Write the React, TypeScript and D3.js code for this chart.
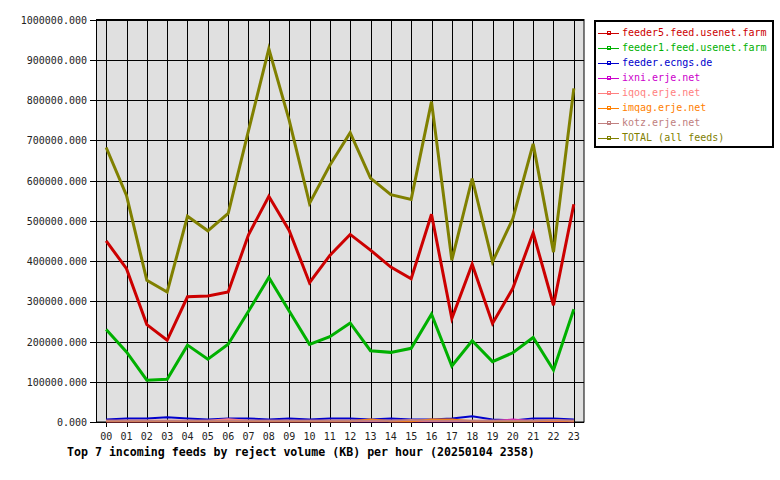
import React from "react";
import * as d3 from "d3";

const hours = ["00","01","02","03","04","05","06","07","08","09","10","11","12","13","14","15","16","17","18","19","20","21","22","23"];
const yTicks = [0,100000,200000,300000,400000,500000,600000,700000,800000,900000,1000000];

const seriesNames = ["feeder5.feed.usenet.farm","feeder1.feed.usenet.farm","feeder.ecngs.de","ixni.erje.net","iqoq.erje.net","imqag.erje.net","kotz.erje.net","TOTAL (all feeds)"];
const seriesColors = ["#cc0000","#00b000","#0000cc","#cc00cc","#ff8080","#ff8000","#c08080","#808000"];

const feeder5 = [450000,381000,242000,203000,311000,313000,323000,465000,561000,476000,346000,414000,466000,427000,385000,356000,516000,257000,392000,245000,332000,470000,290000,541000];
const feeder1 = [230000,174000,104000,106000,191000,156000,193000,275000,359000,276000,193000,212000,246000,177000,173000,183000,268000,139000,202000,150000,172000,210000,129000,280000];
const ecngs = [6000,9000,9000,12000,9000,6000,9000,9000,6000,9000,6000,9000,9000,6000,9000,6000,6000,9000,14000,6000,4000,9000,9000,6000];
const ixni = [2000,2000,2000,2000,2000,2000,2000,2000,2000,2000,2000,2000,2000,2000,2000,2000,2000,2000,2000,2000,6000,2000,2000,2000];
const iqoq = [3000,3000,3000,3000,3000,3000,7000,3000,3000,3000,3000,3000,3000,3000,3000,3000,3000,3000,3000,3000,3000,3000,3000,3000];
const imqag = [2000,2000,2000,2000,2000,2000,2000,2000,2000,2000,2000,2000,2000,6000,2000,2000,6000,6000,2000,2000,2000,2000,4000,2000];
const kotz = [3000,3000,3000,3000,3000,3000,3000,3000,3000,3000,3000,3000,3000,3000,3000,5000,3000,3000,3000,3000,3000,3000,5000,3000];
const total = [682000,563000,352000,323000,511000,475000,518000,724000,927000,750000,543000,638000,719000,606000,565000,553000,796000,402000,605000,398000,505000,691000,422000,829000];

const allSeries = [feeder5, feeder1, ecngs, ixni, iqoq, imqag, kotz, total];

const MONO = "'DejaVu Sans Mono', 'Liberation Mono', monospace";

export default function App() {
  const left = 96, right = 584, top = 19.5, bottom = 422;
  const x = d3.scaleBand<string>().domain(hours).range([left, right]);
  const cx = (h: string) => (x(h) as number) + x.bandwidth() / 2;
  const y = d3.scaleLinear().domain([0, 1000000]).range([bottom, top]);
  const line = d3.line<number>().x((_, i) => cx(hours[i])).y((v) => y(v));

  const legX = 594, legY = 20, legW = 180, legH = 128;

  return (
    <svg width={780} height={480} style={{ position: "absolute", left: 0, top: 0, background: "#fff" }}>
      <rect x={left} y={top} width={right - left} height={bottom - top} fill="#e0e0e0" />
      {yTicks.map((t) => (
        <g key={"y" + t}>
          <line x1={left - 6} x2={right} y1={Math.round(y(t)) + 0.5} y2={Math.round(y(t)) + 0.5} stroke="#000" strokeWidth={1} />
          <text x={87} y={Math.round(y(t)) + 3.5} textAnchor="end" fontFamily={MONO} fontSize={10} fill="#222">
            {d3.format(".3f")(t)}
          </text>
        </g>
      ))}
      {hours.map((h) => (
        <g key={"x" + h}>
          <line x1={Math.round(cx(h)) + 0.5} x2={Math.round(cx(h)) + 0.5} y1={top} y2={bottom + 5} stroke="#000" strokeWidth={1} />
          <text x={cx(h)} y={440} textAnchor="middle" fontFamily={MONO} fontSize={10} fill="#222">{h}</text>
        </g>
      ))}
      <rect x={left + 0.5} y={top} width={right - left - 0.5} height={bottom - top} fill="none" stroke="#000" strokeWidth={1} />
      {allSeries.map((s, i) => (
        <path key={"s" + i} d={line(s) as string} fill="none" stroke={seriesColors[i]} strokeWidth={i >= 2 && i < 7 ? 2 : 3} strokeLinejoin="miter" />
      ))}
      <text x={67} y={456} fontFamily={MONO} fontSize={11.6} fontWeight="bold" fill="#000">
        Top 7 incoming feeds by reject volume (KB) per hour (20250104 2358)
      </text>
      <rect x={legX + 1} y={legY + 1} width={legW - 2} height={legH - 2} fill="#fff" stroke="#000" strokeWidth={2} />
      {seriesNames.map((n, i) => {
        const ly = 32.5 + 15.05 * i;
        return (
          <g key={"l" + i}>
            <line x1={598} x2={619} y1={Math.round(ly) + 0.5} y2={Math.round(ly) + 0.5} stroke={seriesColors[i]} strokeWidth={1} />
            <rect x={607.5} y={Math.round(ly) - 1.5} width={3} height={3} fill="none" stroke={seriesColors[i]} strokeWidth={1} />
            <text x={622} y={ly + 3.5} fontFamily={MONO} fontSize={10} fill={seriesColors[i]}>{n}</text>
          </g>
        );
      })}
    </svg>
  );
}
